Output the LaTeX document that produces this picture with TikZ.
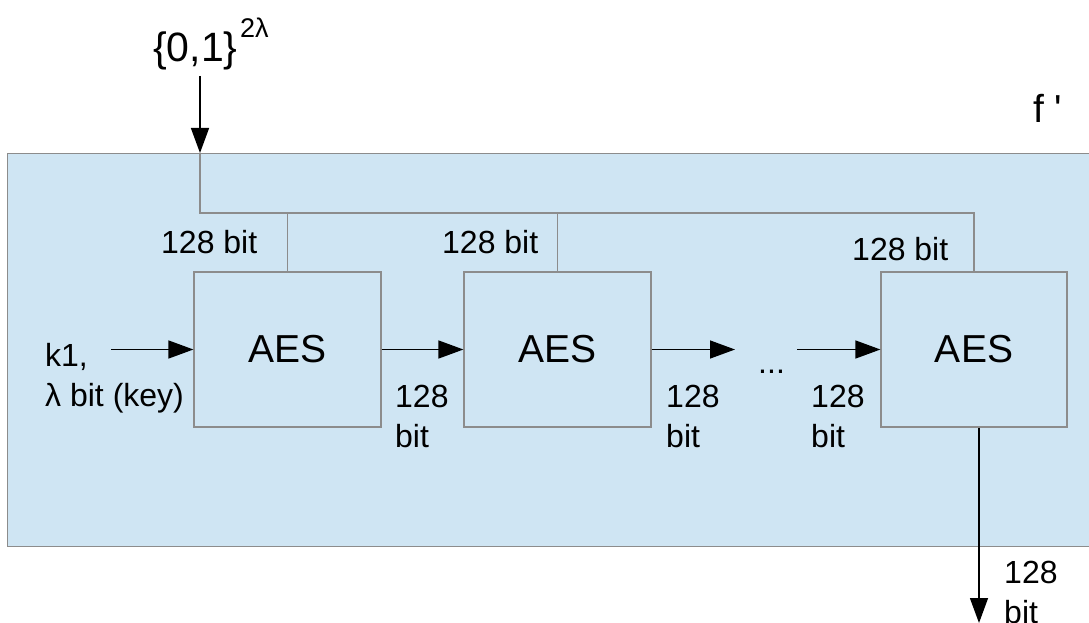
\documentclass[tikz,border=0pt]{standalone}
\usepackage{fontspec}
\setmainfont{Liberation Sans}
\usetikzlibrary{arrows.meta}
\definecolor{panel}{RGB}{207,229,243}
\definecolor{edge}{RGB}{140,140,140}

\begin{document}
\begin{tikzpicture}[x=1pt,y=-1pt,
  aesbox/.style={draw=edge, line width=1.2pt, fill=panel, minimum width=187pt,
    minimum height=155pt, inner sep=0pt, font=\fontsize{39}{44}\selectfont},
  wire/.style={draw=edge, line width=1.2pt},
  flow/.style={draw=black, line width=1.4pt, -{Triangle[length=25pt,width=18pt]}},
  lbl/.style={font=\fontsize{32}{40}\selectfont, inner sep=0pt, anchor=base west, align=left}
]
\useasboundingbox (0,0) rectangle (1089,623);
\clip (0,0) rectangle (1089,623);

% enclosing block f'
\node[draw=edge, line width=1.4pt, fill=panel, inner sep=0pt, anchor=north west,
      minimum width=1100pt, minimum height=393pt] (frame) at (7,153) {};
\node[inner sep=0pt, anchor=base west, font=\fontsize{39}{44}\selectfont] (fname) at (1033,123) {f \textquotesingle};

% input set
\node[inner sep=0pt, anchor=base west, font=\fontsize{41}{46}\selectfont] (inset) at (153,62) {\{0,1\}};
\node[inner sep=0pt, anchor=base west, font=\fontsize{27}{30}\selectfont] (inexp) at (240,38) {2λ};
\coordinate (instart) at (200,76);
\coordinate (tap) at (200,153);
\coordinate (bus) at (200,213);

% AES stages
\node[aesbox] (aes1) at (287.5,349.5) {AES};
\node[aesbox] (aes2) at (557.5,349.5) {AES};
\node[aesbox, minimum width=186pt] (aes3) at (974,349.5) {AES};

% shared 2λ-bit input bus
\draw[flow] (instart) -- (tap);
\draw[wire] (tap) -- (bus) -| (aes3.north);
\draw[wire] (aes1.north) -- (aes1.north |- bus);
\draw[wire] (aes2.north) -- (aes2.north |- bus);
\node[lbl] (b1) at (161,253) {128 bit};
\node[lbl] (b2) at (442,253) {128 bit};
\node[lbl] (b3) at (852,260) {128 bit};

% key input (two-line labels are placed by their last baseline)
\coordinate (keystart) at (111,349.5);
\draw[flow] (keystart) -- (aes1.west);
\node[lbl] (key) at (45,406) {k1,\\λ bit (key)};

% chaining
\coordinate (gapin) at (735,349.5);
\coordinate (gapout) at (797,349.5);
\draw[flow] (aes1.east) -- (aes2.west);
\draw[flow] (aes2.east) -- (gapin);
\draw[flow] (gapout) -- (aes3.west);
\node[lbl] (dots) at (758,373) {...};
\node[lbl] (c1) at (395,447) {128\\bit};
\node[lbl] (c2) at (666,447) {128\\bit};
\node[lbl] (c3) at (811,447) {128\\bit};

% output
\coordinate (outend) at (979,623);
\draw[flow] ([xshift=5pt]aes3.south) -- (outend);
\node[lbl] (c4) at (1004,623) {128\\bit};
\end{tikzpicture}
\end{document}
